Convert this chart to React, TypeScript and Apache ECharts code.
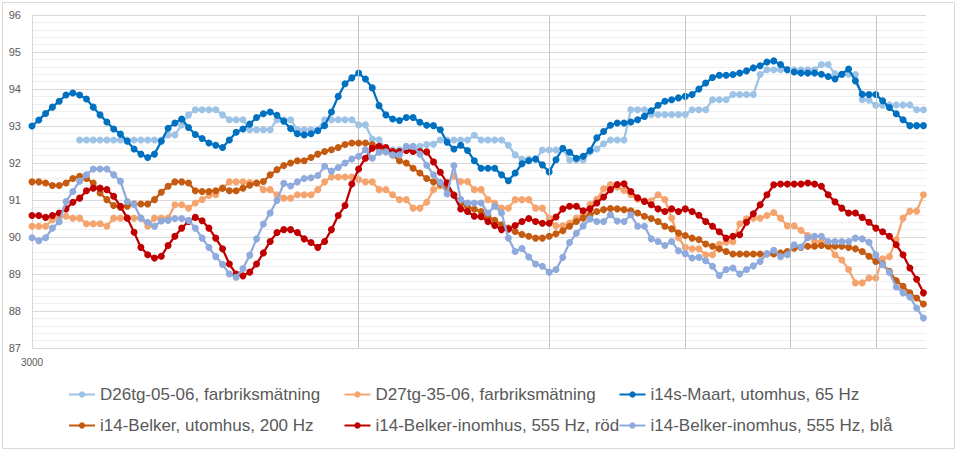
import React, { useEffect, useRef } from 'react';
import * as echarts from 'echarts';

// 1/48-octave frequency grid starting at 3000 Hz (132 points)
const FREQUENCIES = Array.from({ length: 132 }, (_, k) => 3000 * Math.pow(2, k / 48));

const SERIES_NAMES = [
  'D26tg-05-06, farbriksmätning',
  'D27tg-35-06, farbriksmätning',
  'i14s-Maart, utomhus, 65 Hz',
  'i14-Belker, utomhus, 200 Hz',
  'i14-Belker-inomhus, 555 Hz, röd',
  'i14-Belker-inomhus, 555 Hz, blå',
];

const D26TG = [
  null, null, null, null, null, null, null, 92.62, 92.62, 92.62,
  92.62, 92.62, 92.62, 92.62, 92.62, 92.62, 92.62, 92.62, 92.62, 92.62,
  92.76, 92.76, 93.03, 93.30, 93.44, 93.44, 93.44, 93.44, 93.30, 93.17,
  93.17, 93.17, 92.90, 92.90, 92.90, 92.90, 93.17, 93.17, 93.17, 92.90,
  92.90, 92.90, 92.90, 93.17, 93.17, 93.17, 93.17, 93.17, 93.03, 93.03,
  92.65, 92.63, 92.38, 92.36, 92.36, 92.40, 92.40, 92.45, 92.50, 92.51,
  92.62, 92.62, 92.62, 92.62, 92.62, 92.75, 92.62, 92.62, 92.62, 92.62,
  92.48, 92.22, 92.10, 92.10, 92.10, 92.35, 92.35, 92.35, 92.38, 92.08,
  92.08, 92.08, 92.30, 92.38, 92.52, 92.62, 92.62, 92.62, 93.44, 93.44,
  93.44, 93.31, 93.31, 93.31, 93.31, 93.31, 93.31, 93.44, 93.44, 93.44,
  93.71, 93.71, 93.71, 93.85, 93.85, 93.85, 93.85, 94.39, 94.52, 94.52,
  94.52, 94.52, 94.52, 94.52, 94.52, 94.52, 94.66, 94.66, 94.41, 94.39,
  94.40, 94.39, 93.71, 93.70, 93.56, 93.56, 93.57, 93.57, 93.57, 93.57,
  93.44, 93.44,
];

const D27TG = [
  90.29, 90.29, 90.29, 90.47, 90.54, 90.56, 90.51, 90.51, 90.36, 90.36,
  90.36, 90.29, 90.51, 90.51, 90.51, 90.51, 90.51, 90.29, 90.51, 90.51,
  90.51, 90.87, 90.87, 90.78, 90.92, 91.01, 91.12, 91.14, 91.32, 91.49,
  91.49, 91.49, 91.47, 91.46, 91.28, 91.28, 91.14, 91.05, 91.05, 91.14,
  91.14, 91.14, 91.28, 91.49, 91.62, 91.62, 91.62, 91.62, 91.55, 91.49,
  91.49, 91.28, 91.28, 91.14, 91.01, 91.01, 90.78, 90.78, 90.94, 91.28,
  91.38, 91.48, 91.64, 91.50, 91.50, 91.28, 91.28, 91.01, 90.92, 90.78,
  90.78, 91.01, 91.01, 91.01, 90.78, 90.78, 90.51, 90.30, 90.30, 90.38,
  90.51, 90.62, 90.88, 91.02, 91.30, 91.42, 91.35, 91.26, 91.14, 91.02,
  90.98, 90.98, 91.14, 91.01, 90.51, 89.98, 89.72, 89.68, 89.68, 89.52,
  89.52, 89.80, 89.86, 89.87, 90.36, 90.49, 90.51, 90.51, 90.58, 90.66,
  90.51, 90.30, 90.30, 90.18, 90.04, 89.88, 89.88, 89.77, 89.52, 89.38,
  89.12, 88.76, 88.76, 88.89, 88.89, 89.41, 89.47, 89.93, 90.51, 90.70,
  90.70, 91.14,
];

const MAART_65HZ = [
  93.00, 93.16, 93.34, 93.51, 93.67, 93.84, 93.89, 93.84, 93.73, 93.51,
  93.30, 93.11, 92.92, 92.78, 92.59, 92.38, 92.24, 92.15, 92.24, 92.59,
  92.94, 93.08, 93.19, 92.96, 92.77, 92.66, 92.54, 92.48, 92.42, 92.62,
  92.83, 92.92, 93.05, 93.23, 93.33, 93.38, 93.29, 93.13, 92.93, 92.79,
  92.76, 92.79, 92.87, 93.01, 93.38, 93.80, 94.14, 94.30, 94.43, 94.27,
  94.03, 93.55, 93.30, 93.19, 93.15, 93.23, 93.23, 93.10, 93.02, 93.01,
  92.90, 92.56, 92.38, 92.48, 92.34, 92.06, 91.86, 91.86, 91.86, 91.68,
  91.52, 91.73, 91.98, 92.06, 92.11, 91.95, 91.76, 92.09, 92.40, 92.29,
  92.13, 92.18, 92.34, 92.68, 92.85, 93.02, 93.08, 93.08, 93.11, 93.17,
  93.26, 93.41, 93.56, 93.67, 93.71, 93.76, 93.80, 93.85, 94.00, 94.16,
  94.31, 94.37, 94.37, 94.39, 94.43, 94.49, 94.57, 94.63, 94.73, 94.76,
  94.66, 94.52, 94.46, 94.43, 94.43, 94.43, 94.40, 94.34, 94.27, 94.40,
  94.54, 94.22, 93.86, 93.85, 93.85, 93.68, 93.50, 93.33, 93.17, 93.01,
  93.01, 93.01,
];

const BELKER_UTE_200HZ = [
  91.49, 91.49, 91.46, 91.39, 91.39, 91.46, 91.58, 91.64, 91.58, 91.46,
  91.19, 91.01, 90.85, 90.80, 90.83, 90.89, 90.89, 90.89, 91.01, 91.21,
  91.37, 91.49, 91.49, 91.46, 91.25, 91.23, 91.23, 91.25, 91.32, 91.25,
  91.25, 91.32, 91.40, 91.46, 91.50, 91.68, 91.82, 91.93, 92.00, 92.06,
  92.06, 92.15, 92.24, 92.31, 92.36, 92.42, 92.50, 92.54, 92.54, 92.54,
  92.50, 92.42, 92.36, 92.22, 92.06, 92.00, 91.86, 91.73, 91.58, 91.49,
  91.43, 91.32, 91.14, 90.92, 90.82, 90.75, 90.69, 90.56, 90.45, 90.33,
  90.24, 90.15, 90.07, 90.02, 89.97, 89.97, 90.02, 90.09, 90.17, 90.29,
  90.42, 90.51, 90.60, 90.69, 90.74, 90.77, 90.76, 90.74, 90.71, 90.65,
  90.56, 90.50, 90.42, 90.29, 90.22, 90.11, 90.04, 89.97, 89.93, 89.81,
  89.75, 89.68, 89.61, 89.54, 89.54, 89.54, 89.54, 89.54, 89.54, 89.54,
  89.57, 89.61, 89.70, 89.72, 89.75, 89.75, 89.77, 89.75, 89.75, 89.75,
  89.72, 89.68, 89.61, 89.48, 89.34, 89.27, 89.07, 88.82, 88.67, 88.49,
  88.35, 88.19,
];

const BELKER_INNE_ROD = [
  90.58, 90.58, 90.53, 90.58, 90.65, 90.76, 90.94, 91.05, 91.25, 91.32,
  91.32, 91.28, 91.10, 90.83, 90.51, 90.13, 89.72, 89.52, 89.43, 89.48,
  89.77, 90.02, 90.24, 90.42, 90.53, 90.44, 90.24, 89.97, 89.68, 89.27,
  89.00, 88.95, 89.05, 89.27, 89.57, 89.88, 90.12, 90.20, 90.20, 90.12,
  89.95, 89.85, 89.72, 89.88, 90.20, 90.58, 90.85, 91.43, 91.84, 92.13,
  92.40, 92.45, 92.42, 92.31, 92.31, 92.34, 92.31, 92.31, 92.30, 92.03,
  91.75, 91.46, 91.13, 90.76, 90.69, 90.56, 90.55, 90.42, 90.31, 90.20,
  90.21, 90.31, 90.42, 90.50, 90.42, 90.37, 90.37, 90.54, 90.76, 90.83,
  90.83, 90.71, 90.76, 90.92, 91.08, 91.28, 91.42, 91.44, 91.23, 91.06,
  90.96, 90.87, 90.76, 90.69, 90.76, 90.69, 90.76, 90.69, 90.59, 90.42,
  90.29, 90.14, 89.97, 90.02, 90.06, 90.40, 90.63, 90.87, 91.14, 91.41,
  91.43, 91.43, 91.43, 91.43, 91.46, 91.43, 91.37, 91.14, 90.95, 90.78,
  90.65, 90.65, 90.53, 90.40, 90.24, 90.14, 90.02, 89.79, 89.52, 89.16,
  88.86, 88.49,
];

const BELKER_INNE_BLA = [
  89.98, 89.90, 89.98, 90.24, 90.41, 90.96, 91.23, 91.51, 91.68, 91.84,
  91.84, 91.84, 91.68, 91.51, 90.96, 90.88, 90.51, 90.40, 90.29, 90.43,
  90.45, 90.50, 90.50, 90.45, 90.24, 89.97, 89.72, 89.47, 89.26, 89.00,
  88.91, 89.15, 89.51, 89.95, 90.35, 90.65, 90.99, 91.45, 91.38, 91.49,
  91.58, 91.60, 91.66, 91.91, 91.78, 91.88, 92.00, 92.11, 92.18, 92.36,
  92.13, 92.29, 92.30, 92.22, 92.22, 92.45, 92.45, 92.24, 91.94, 91.68,
  91.48, 91.16, 91.93, 91.01, 90.92, 90.92, 90.92, 90.65, 90.83, 90.65,
  89.97, 89.61, 89.69, 89.46, 89.27, 89.21, 89.05, 89.12, 89.45, 89.85,
  90.10, 90.30, 90.49, 90.42, 90.42, 90.60, 90.43, 90.42, 90.60, 90.29,
  90.29, 89.95, 89.88, 89.77, 89.88, 89.63, 89.55, 89.43, 89.45, 89.36,
  89.21, 88.96, 89.12, 89.16, 89.00, 89.12, 89.22, 89.34, 89.55, 89.64,
  89.47, 89.52, 89.79, 89.73, 89.98, 90.02, 90.02, 89.88, 89.88, 89.88,
  89.88, 89.97, 89.95, 89.86, 89.52, 89.25, 89.04, 88.65, 88.49, 88.38,
  88.08, 87.81,
];

const SERIES_VALUES = [D26TG, D27TG, MAART_65HZ, BELKER_UTE_200HZ, BELKER_INNE_ROD, BELKER_INNE_BLA];
const SERIES_COLORS = ['#9DC3E6', '#F4A46C', '#0070C0', '#C55A11', '#C00000', '#8FAADC'];

const Y_MIN = 87;
const Y_MAX = 96;
const X_MIN = 3000;
const X_MAX = 20000;
const X_GRID_LINES = [6000, 9000, 12000, 15000, 18000];

const FONT = '"Liberation Sans", Arial, sans-serif';

export default function App() {
  const ref = useRef<HTMLDivElement>(null);

  useEffect(() => {
    if (!ref.current) return;
    const chart = echarts.init(ref.current, undefined, { renderer: 'svg' });

    const series: any[] = [
      {
        name: '__grid',
        type: 'line',
        data: [],
        silent: true,
        z: 1,
        markLine: {
          silent: true,
          symbol: ['none', 'none'],
          label: { show: false },
          lineStyle: { color: '#C4C4C4', width: 1, type: 'solid' },
          emphasis: { disabled: true },
          data: X_GRID_LINES.map((v) => ({ xAxis: v })),
        },
      },
    ];

    SERIES_NAMES.forEach((name, i) => {
      const color = SERIES_COLORS[i];
      const data = SERIES_VALUES[i]
        .map((v, k) => (v === null ? null : [FREQUENCIES[k], v]))
        .filter((p) => p !== null);
      series.push({
        name,
        type: 'line',
        data,
        symbol: 'circle',
        symbolSize: 7,
        showSymbol: true,
        lineStyle: { width: 2.25, color },
        itemStyle: { color, borderWidth: 0 },
        z: 2 + i,
      });
    });

    const legendLefts = [63, 338.5, 613.5];
    const legendTops = [381, 412];
    const legends = SERIES_NAMES.map((name, i) => ({
      data: [name],
      left: legendLefts[i % 3],
      top: legendTops[Math.floor(i / 3)],
      itemWidth: 26,
      itemHeight: 8,
      itemGap: 0,
      selectedMode: false,
      textStyle: { fontFamily: FONT, fontSize: 17, color: '#595959' },
    }));

    chart.setOption({
      animation: false,
      backgroundColor: '#ffffff',
      grid: { left: 32, right: 30, top: 15, height: 333, containLabel: false },
      xAxis: {
        type: 'log',
        logBase: 10,
        min: X_MIN,
        max: X_MAX,
        axisLine: { show: true, lineStyle: { color: '#D9D9D9', width: 1 } },
        axisTick: { show: false },
        splitLine: { show: false },
        minorTick: { show: false },
        minorSplitLine: { show: false },
        axisLabel: {
          show: true,
          showMinLabel: true,
          showMaxLabel: false,
          margin: 9,
          fontFamily: FONT,
          fontSize: 10,
          color: '#595959',
          formatter: (v: number) => (Math.abs(v - X_MIN) < 1 ? String(X_MIN) : ''),
        },
      },
      yAxis: {
        type: 'value',
        min: Y_MIN,
        max: Y_MAX,
        interval: 1,
        axisLine: { show: true, lineStyle: { color: '#D9D9D9', width: 1 } },
        axisTick: { show: false },
        splitLine: { show: true, lineStyle: { color: '#D9D9D9', width: 1 } },
        minorTick: { show: false, splitNumber: 5 },
        minorSplitLine: { show: true, lineStyle: { color: '#EFEFEF', width: 1 } },
        axisLabel: {
          margin: 11,
          fontFamily: FONT,
          fontSize: 11,
          color: '#595959',
        },
      },
      legend: legends,
      graphic: [
        {
          type: 'rect',
          left: 0,
          top: 0,
          silent: true,
          shape: { x: 0, y: 0, width: 952, height: 446 },
          style: { fill: 'none', stroke: '#D9D9D9', lineWidth: 1 },
        },
      ],
      series,
    });

    return () => {
      chart.dispose();
    };
  }, []);

  return (
    <div
      ref={ref}
      style={{ position: 'absolute', left: 0, top: 0, width: 956, height: 450 }}
    />
  );
}
